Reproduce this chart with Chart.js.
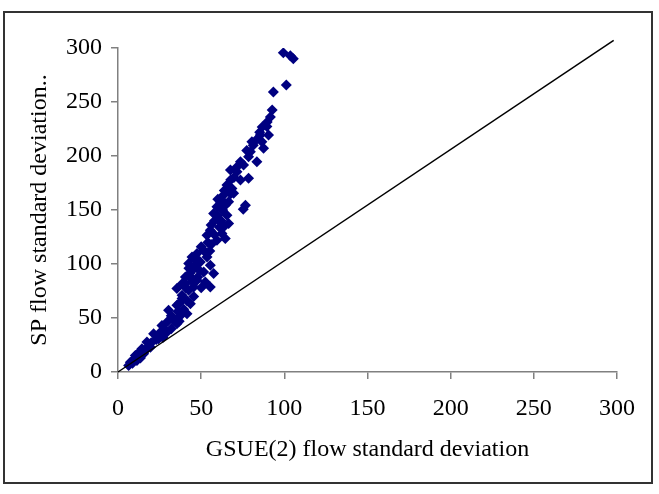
<!DOCTYPE html>
<html>
<head>
<meta charset="utf-8">
<script src="https://cdn.jsdelivr.net/npm/chart.js@4"></script>
<style>
  html, body { margin: 0; padding: 0; background: #fff; }
  #wrap { width: 659px; height: 494px; }
</style>
</head>
<body>
<div id="wrap"><canvas id="sdChart" width="659" height="494"></canvas></div>
<script>
// GSUE(2) flow standard deviation (x) vs SP flow standard deviation (y)
const gsueSd = [
  99.4, 103.6, 105.4, 101.2, 93.4, 92.7, 91.6, 89.7, 86.7, 89.5,
  90.5, 85.6, 80.5, 86.5, 87.5, 79.6, 78.5, 83.5, 73.6, 75.5,
  67.6, 71.5, 78.5, 73.6, 65.5, 68.5, 69.5, 63.5, 62.5, 66.5,
  59.5, 76.6, 75.3, 61.5, 64.5, 57.5, 65.5, 60.5, 66.5, 55.5,
  53.5, 62.5, 64.5, 59.5, 51.5, 47.5, 44.5, 53.5, 49.5, 42.5,
  55.5, 45.5, 51.5, 57.5, 43.5, 47.5, 38.5, 52.5, 45.5, 55.5,
  40.5, 35.4, 42.5, 38.5, 30.4, 35.4, 43.5, 41.5, 33.4, 26.4,
  35.4, 29.4, 21.4, 24.4, 17.4, 19.5, 14.4, 15.4, 10.4, 11.4,
  7.4, 6.4,
  56, 58, 61, 54, 50, 48, 46.5, 49, 43.5, 40.5,
  48, 44.5, 50, 38.5, 41.5, 37, 39.5, 36, 32, 37.5,
  30, 28, 32, 25, 23, 27, 20, 18.5, 16.5, 12.5,
  13.5, 9.7, 8.7, 67.8, 69.7, 71.6, 77.4, 81.3, 83.2, 85.2,
  62.9, 60, 58, 56, 62, 63.9, 67.8, 63.9, 60, 53.2,
  55.2, 46.5, 42.6, 40.7, 45.5, 33.9, 36.8
];
const spSd = [
  295.5, 292.8, 290.0, 265.7, 259.3, 242.6, 236.2, 231.5, 226.9, 227.2,
  219.5, 219.5, 213.2, 213.2, 207.1, 204.0, 199.3, 194.7, 194.7, 191.6,
  187.0, 185.4, 179.3, 177.7, 173.1, 170.0, 165.4, 163.8, 159.1, 157.6,
  152.9, 154.5, 150.8, 157.6, 154.5, 146.8, 145.2, 140.6, 137.5, 131.3,
  126.7, 128.2, 123.6, 122.0, 112.8, 109.7, 106.5, 106.5, 101.9, 100.4,
  98.8, 95.8, 92.6, 91.1, 88.0, 84.9, 81.8, 83.3, 78.7, 78.7,
  81.8, 77.2, 75.6, 71.0, 57.1, 61.7, 63.3, 54.0, 49.4, 43.1,
  44.7, 36.9, 35.4, 30.8, 27.7, 23.0, 21.5, 16.9, 15.3, 10.7,
  9.1, 6.0,
  118, 127, 134, 120, 116, 104, 98, 94, 92, 88,
  88, 84, 78, 68, 66, 64, 58, 56, 52, 52,
  47, 40, 40, 36, 30, 32, 27, 24, 20, 18,
  13, 12, 8, 178, 180, 190, 205, 210, 215, 222,
  150, 145, 140, 136, 140, 135, 165, 168, 160, 110,
  112, 104, 96, 78, 70, 47, 47
];
// straight reference line drawn from the origin to the top right
const lineX = [0, 298];
const lineY = [0, 307];
const tickValues = [0, 50, 100, 150, 200, 250, 300];

const points = gsueSd.map((x, i) => ({ x: x, y: spSd[i] }));
const linePts = lineX.map((x, i) => ({ x: x, y: lineY[i] }));

// outer frame around the whole figure
const framePlugin = {
  id: 'frame',
  beforeDraw(chart) {
    const ctx = chart.ctx;
    ctx.save();
    ctx.fillStyle = '#fff';
    ctx.fillRect(0, 0, chart.width, chart.height);
    ctx.strokeStyle = '#333';
    ctx.lineWidth = 2;
    ctx.strokeRect(4, 12, 648, 471);
    ctx.restore();
  }
};

const font = { family: '"Liberation Serif", "Times New Roman", serif', size: 24 };

new Chart(document.getElementById('sdChart'), {
  type: 'scatter',
  data: {
    datasets: [
      {
        type: 'line',
        data: linePts,
        borderColor: '#000',
        borderWidth: 1.5,
        pointRadius: 0,
        clip: false,
        order: 0
      },
      {
        data: points,
        pointStyle: 'rectRot',
        pointRadius: 5.5,
        backgroundColor: '#000080',
        borderColor: '#000080',
        borderWidth: 0,
        order: 1
      }
    ]
  },
  options: {
    responsive: false,
    animation: false,
    layout: { padding: { left: 0, top: 48, right: 42, bottom: 0 } },
    plugins: { legend: { display: false }, tooltip: { enabled: false } },
    scales: {
      x: {
        type: 'linear',
        min: 0,
        max: 300,
        afterBuildTicks: s => { s.ticks = tickValues.map(v => ({ value: v })); },
        afterFit: s => { s.height = 122; },
        border: { color: '#808080', width: 1.5 },
        grid: { drawOnChartArea: false, drawTicks: true, tickLength: 7, color: '#808080', lineWidth: 1.5 },
        ticks: { color: '#000', font: font, padding: 15, maxRotation: 0 },
        title: { display: true, text: 'GSUE(2) flow standard deviation', color: '#000', font: font, padding: { top: 0, bottom: 30 } }
      },
      y: {
        type: 'linear',
        min: 0,
        max: 300,
        afterBuildTicks: s => { s.ticks = tickValues.map(v => ({ value: v })); },
        afterFit: s => { s.width = 118; },
        border: { color: '#808080', width: 1.5 },
        grid: { drawOnChartArea: false, drawTicks: true, tickLength: 7, color: '#808080', lineWidth: 1.5 },
        ticks: { color: '#000', font: font, padding: 9 },
        title: { display: true, text: 'SP flow standard deviation..', color: '#000', font: font, padding: { top: 25, bottom: 0 } }
      }
    }
  },
  plugins: [framePlugin]
});
</script>
</body>
</html>
